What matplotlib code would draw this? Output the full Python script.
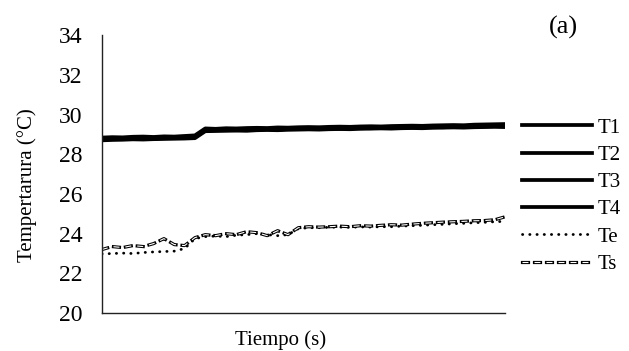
import numpy as np
import matplotlib
matplotlib.use("Agg")
import matplotlib.pyplot as plt
import matplotlib.patheffects as pe

plt.rcParams['font.family'] = ['Liberation Serif', 'DejaVu Serif']

# temperature readings (°C), one per sample
T1 = [28.78, 28.80, 28.79, 28.82, 28.83, 28.82, 28.85, 28.84, 28.87, 28.90,
      29.25, 29.24, 29.27, 29.26, 29.28, 29.29, 29.28, 29.30, 29.31, 29.30,
      29.32, 29.33, 29.31, 29.34, 29.33, 29.35, 29.34, 29.36, 29.37, 29.36,
      29.38, 29.40, 29.39, 29.42, 29.41, 29.43, 29.42, 29.45, 29.44, 29.45]
T2 = [28.74, 28.76, 28.77, 28.78, 28.80, 28.78, 28.81, 28.82, 28.83, 28.85,
      29.20, 29.21, 29.22, 29.21, 29.23, 29.25, 29.26, 29.24, 29.27, 29.28,
      29.27, 29.29, 29.30, 29.28, 29.31, 29.32, 29.31, 29.33, 29.34, 29.35,
      29.34, 29.36, 29.37, 29.36, 29.38, 29.39, 29.38, 29.40, 29.41, 29.40]
T3 = [28.84, 28.86, 28.85, 28.88, 28.89, 28.87, 28.90, 28.89, 28.92, 28.95,
      29.30, 29.28, 29.31, 29.30, 29.32, 29.33, 29.32, 29.35, 29.34, 29.36,
      29.37, 29.36, 29.38, 29.39, 29.38, 29.40, 29.41, 29.40, 29.42, 29.43,
      29.44, 29.43, 29.45, 29.46, 29.47, 29.46, 29.49, 29.50, 29.51, 29.52]
T4 = [28.70, 28.72, 28.73, 28.75, 28.74, 28.76, 28.77, 28.78, 28.79, 28.81,
      29.16, 29.17, 29.18, 29.19, 29.18, 29.21, 29.22, 29.21, 29.23, 29.24,
      29.25, 29.24, 29.26, 29.27, 29.26, 29.28, 29.29, 29.30, 29.29, 29.31,
      29.32, 29.31, 29.33, 29.34, 29.35, 29.34, 29.36, 29.37, 29.38, 29.37]
Te = [22.98, 23.00, 23.02, 23.00, 23.05, 23.08, 23.10, 23.12, 23.25, 23.75,
      23.85, 23.88, 23.85, 23.92, 23.95, 24.00, 23.95, 23.90, 23.95, 24.25,
      24.30, 24.30, 24.32, 24.33, 24.32, 24.34, 24.33, 24.35, 24.35, 24.38,
      24.40, 24.42, 24.45, 24.47, 24.50, 24.52, 24.55, 24.57, 24.60, 24.62]
Ts = [23.20, 23.35, 23.30, 23.40, 23.35, 23.50, 23.75, 23.45, 23.40, 23.80,
      23.95, 23.90, 24.00, 23.95, 24.10, 24.05, 23.90, 24.15, 23.95, 24.30,
      24.35, 24.33, 24.35, 24.38, 24.35, 24.40, 24.38, 24.42, 24.45, 24.43,
      24.48, 24.52, 24.55, 24.58, 24.60, 24.62, 24.65, 24.66, 24.70, 24.85]

x = np.arange(len(T1))

fig = plt.figure(figsize=(6.29, 3.51), dpi=100)
ax = fig.add_axes([0.162, 0.108, 0.641, 0.792])

for y, lab in zip([T1, T2, T3, T4], ['T1', 'T2', 'T3', 'T4']):
    ax.plot(x, y, color='black', lw=2.7, label=lab)
ax.plot(x, Te, color='black', lw=2.0, linestyle=(0, (0.1, 2.5)),
        dash_capstyle='round', label='Te')
ax.plot(x, Ts, color='white', lw=0.8, linestyle=(0, (5.4, 5.4)), label='Ts',
        path_effects=[pe.Stroke(linewidth=2.3, foreground='black',
                                capstyle='projecting'), pe.Normal()])

ax.set_xlim(0, len(x) - 1)
ax.set_ylim(20, 34)
ax.set_yticks(np.arange(20, 35, 2))
ax.set_xticks([])
ax.tick_params(axis='y', length=0, labelsize=17, pad=14)
for s in ['top', 'right']:
    ax.spines[s].set_visible(False)
for s in ['left', 'bottom']:
    ax.spines[s].set_color('#222222')
    ax.spines[s].set_linewidth(1.0)

ax.set_xlabel('Tiempo (s)', fontsize=15)
ax.set_ylabel('Tempertarura (°C)', fontsize=15)
ax.xaxis.set_label_coords(0.444, -0.097)
ax.yaxis.set_label_coords(-0.186, 0.46)
ax.xaxis.label.set_va('center')
ax.yaxis.label.set_va('center')

fig.legend(loc='upper left', bbox_to_anchor=(0.830, 0.664), frameon=False,
           fontsize=15, handlelength=3.37, handletextpad=0.24, labelspacing=0.37,
           borderpad=0, borderaxespad=0)

fig.text(563 / 629, 1 - 27 / 351, '(a)', fontsize=19, ha='center', va='center')

fig.savefig('out.png', dpi=100)
